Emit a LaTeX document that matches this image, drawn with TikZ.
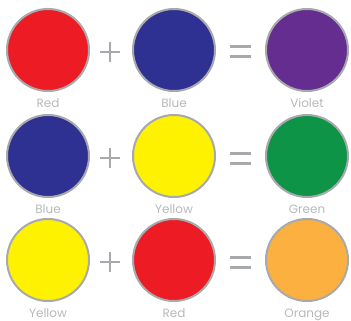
\documentclass[tikz,border=0pt]{standalone}
\usepackage{fontspec}
\setmainfont{Poppins}
\usepackage{tikz}
\usetikzlibrary{positioning}
\definecolor{CRed}{RGB}{237,28,36}
\definecolor{CBlue}{RGB}{46,49,146}
\definecolor{CViolet}{RGB}{102,45,145}
\definecolor{CYellow}{RGB}{255,242,0}
\definecolor{CGreen}{RGB}{13,148,70}
\definecolor{COrange}{RGB}{251,176,64}
\definecolor{CRim}{RGB}{167,169,172}
\definecolor{CText}{RGB}{182,184,186}

\begin{document}
\begin{tikzpicture}[x=1pt, y=-1pt,
          blob/.style={circle, draw=CRim, line width=2pt, minimum size=82pt, inner sep=0pt},
          colname/.style={anchor=base, text=CText, font=\fontsize{12}{12}\selectfont, inner sep=0pt},
          sign/.style={draw=CRim, line width=2.6pt}
        ]
        \useasboundingbox (0,0) rectangle (351,321);

        % row 1
        \node[blob, fill=CRed]    (r1a) at (48, 50) {};
        \node[blob, fill=CBlue]   (r1b) at (174, 50) {};
        \node[blob, fill=CViolet] (r1c) at (307, 50) {};
        \node[colname] (t1a) at (48, 107) {Red};
        \node[colname] (t1b) at (174, 107) {Blue};
        \node[colname] (t1c) at (307, 107) {Violet};

        % row 2
        \node[blob, fill=CBlue]   (r2a) at (48, 156) {};
        \node[blob, fill=CYellow] (r2b) at (174, 156) {};
        \node[blob, fill=CGreen]  (r2c) at (307, 156) {};
        \node[colname] (t2a) at (48, 213) {Blue};
        \node[colname] (t2b) at (174, 213) {Yellow};
        \node[colname] (t2c) at (307, 213) {Green};

        % row 3
        \node[blob, fill=CYellow] (r3a) at (48, 260) {};
        \node[blob, fill=CRed]    (r3b) at (174, 260) {};
        \node[blob, fill=COrange] (r3c) at (307, 260) {};
        \node[colname] (t3a) at (48, 317) {Yellow};
        \node[colname] (t3b) at (174, 317) {Red};
        \node[colname] (t3c) at (307, 317) {Orange};

        % plus and equals signs
        \foreach \y in {52, 158, 262} {
          \draw[sign] (100,\y) -- (120,\y);
          \draw[sign] (110,\y-10) -- (110,\y+10);
          \draw[sign, line width=3pt] (230,\y-5) -- (251,\y-5);
          \draw[sign, line width=3pt] (230,\y+5) -- (251,\y+5);
        }
      \end{tikzpicture}
\end{document}
